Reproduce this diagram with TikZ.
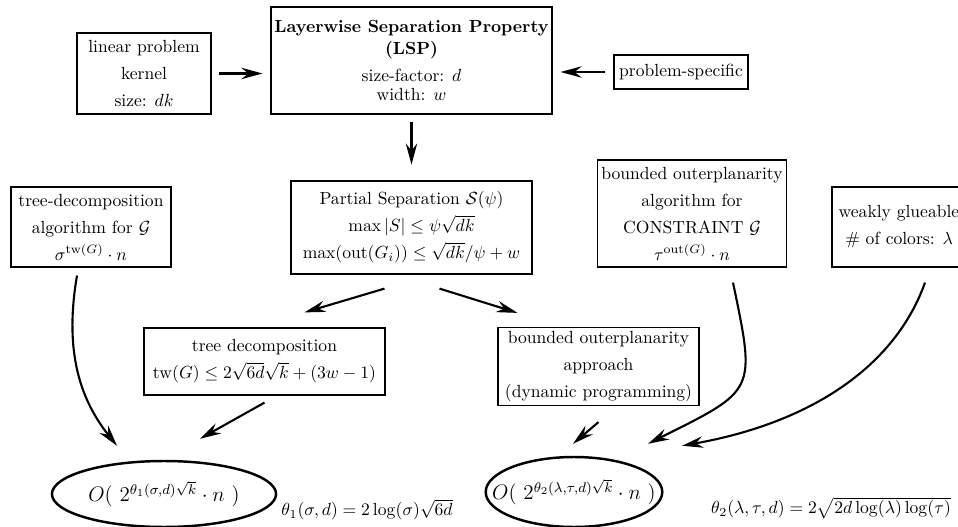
\documentclass[tikz,border=0pt]{standalone}
\usepackage{amsmath,amssymb}
\usetikzlibrary{arrows.meta,calc,shapes.geometric}

\begin{document}
\begin{tikzpicture}[x=0.02cm,y=-0.02cm,>={Stealth[length=12pt,width=6.5pt,inset=4pt]},
        infobox/.style={draw,line width=0.7pt,align=center,inner sep=2pt,
                        font=\linespread{1.28}\selectfont},
        boundnode/.style={draw,ellipse,line width=1.4pt,inner ysep=0pt,font=\large}]
        \useasboundingbox (0,0) rectangle (958,527);

        \node[infobox,minimum width=2.68cm,minimum height=1.62cm] (linear) at (144,73.5)
            {linear problem\\kernel\\size: $dk$};
        \node[infobox,minimum width=5.62cm,minimum height=2.14cm,font=\normalfont] (lsp) at (411.5,60.5)
            {\textbf{Layerwise Separation Property}\\\textbf{(LSP)}\\[3.4pt]size-factor: $d$\\[-1.2pt]width: $w$};
        \node[infobox,minimum width=2.68cm,minimum height=0.68cm] (specific) at (681,72)
            {problem-specific};
        \node[infobox,minimum width=3.2cm,minimum height=1.6cm] (treealg) at (91,227)
            {tree-decomposition\\algorithm for $\mathcal{G}$\\$\sigma^{\mathrm{tw}(G)}\cdot n$};
        \node[infobox,minimum width=4.82cm,minimum height=1.86cm] (partial) at (411.5,227.5)
            {Partial Separation $\mathcal{S}(\psi)$\\$\max|S|\leq\psi\sqrt{dk}$\\$\max(\mathrm{out}(G_i))\leq\sqrt{dk}/\psi+w$};
        \node[infobox,minimum width=3.76cm,minimum height=2.14cm] (outeralg) at (692,213.5)
            {bounded outerplanarity\\algorithm for\\CONSTRAINT $\mathcal{G}$\\$\tau^{\mathrm{out}(G)}\cdot n$};
        \node[infobox,minimum width=2.68cm,minimum height=1.6cm] (glueable) at (899,227)
            {weakly glueable\\\# of colors: $\lambda$};
        \node[infobox,minimum width=4.82cm,minimum height=1.34cm] (treedec) at (264.5,361.5)
            {tree decomposition\\$\mathrm{tw}(G)\leq 2\sqrt{6d}\sqrt{k}+(3w-1)$};
        \node[infobox,minimum width=4.02cm,minimum height=1.56cm] (outerapp) at (598.5,366.5)
            {bounded outerplanarity\\approach\\(dynamic programming)};

        \node[boundnode,inner xsep=2pt,minimum height=1.32cm] (treebound) at (164,494)
            {$O(\ 2^{\theta_1(\sigma,d)\sqrt{k}}\cdot n\ )$};
        \node[boundnode,inner xsep=-11pt,minimum height=1.4cm] (outerbound) at (574,492)
            {$O(\ 2^{\theta_2(\lambda,\tau,d)\sqrt{k}}\cdot n\ )$};
        \node (thetaone) at (367,510) {$\theta_1(\sigma,d)=2\log(\sigma)\sqrt{6d}$};
        \node (thetatwo) at (831,508) {$\theta_2(\lambda,\tau,d)=2\sqrt{2d\log(\lambda)\log(\tau)}$};

        \draw[->,very thick,shorten <=4pt,shorten >=4.5pt] (linear.east) -- (linear.east -| lsp.west);
        \draw[->,very thick,shorten <=4.5pt,shorten >=4.5pt] (specific.west) -- (specific.west -| lsp.east);
        \draw[->,very thick,shorten <=4pt,shorten >=9pt] (lsp) -- (partial);
        \draw[->,very thick] ($(partial.south)+(-27,14)$) -- ($(treedec.north)+(40,-15)$);
        \draw[->,very thick] ($(partial.south)+(28,14)$) -- ($(outerapp.north)+(-81,-14)$);
        \draw[->,very thick] ($(treedec.south)+(0,7)$) -- ($(treebound.north)+(36,-21)$);
        \draw[->,very thick] ($(outerapp.south)+(0,16)$) -- ($(outerbound.north)+(-1,-12)$);
        \draw[->,very thick] ($(treealg.south)+(-14,8)$) .. controls +(-12,70) and +(-40,-50) .. ($(treebound.north)+(-47,-14)$);
        \draw[->,very thick] ($(outeralg.south)+(41,15)$) .. controls +(23,110) and +(108,-54) .. ($(outerbound.north)+(74,-12)$);
        \draw[->,very thick] ($(glueable.south)+(26,15)$) .. controls +(-30,84) and +(129,-23) .. ($(outerbound.north)+(108,-10)$);
    \end{tikzpicture}
\end{document}
